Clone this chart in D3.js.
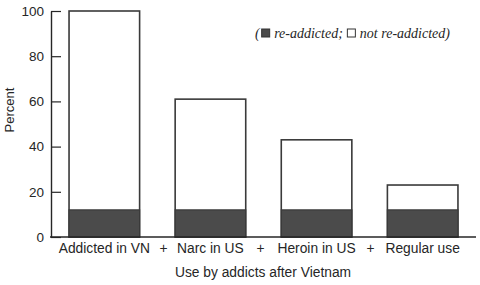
<!DOCTYPE html>
<html>
<head>
<meta charset="utf-8">
<script src="https://cdn.jsdelivr.net/npm/d3@7"></script>
<style>
  body { margin: 0; background: #fff; }
  svg { display: block; }
</style>
</head>
<body>
<div id="chart"></div>
<script>
// data
const categories = ["Addicted in VN", "Narc in US", "Heroin in US", "Regular use"];
const totalUse = [100, 61, 43, 23];     // percent, whole bar
const reAddicted = [12, 12, 12, 12];    // percent, dark part
const yTicks = [0, 20, 40, 60, 80, 100];

const W = 480, H = 285;
const ink = "#262626", dark = "#4b4b4b";
const sans = "Liberation Sans, Arial, Helvetica, sans-serif";

const svg = d3.select("#chart").append("svg")
  .attr("width", W).attr("height", H);

const x = d3.scaleBand().domain(categories)
  .range([51, 476]).paddingInner(0.335).paddingOuter(0.17);
const y = d3.scaleLinear().domain([0, 100]).range([237, 11]);

// bars: outline for total, dark fill for re-addicted share
const bars = svg.append("g");
bars.selectAll(".tot").data(categories).enter().append("rect")
  .attr("class", "tot")
  .attr("x", d => x(d)).attr("width", x.bandwidth())
  .attr("y", (d, i) => y(totalUse[i]))
  .attr("height", (d, i) => y(0) - y(totalUse[i]))
  .attr("fill", "#fff").attr("stroke", "#3a3a3a").attr("stroke-width", 1.6);
bars.selectAll(".re").data(categories).enter().append("rect")
  .attr("class", "re")
  .attr("x", d => x(d)).attr("width", x.bandwidth())
  .attr("y", (d, i) => y(reAddicted[i]))
  .attr("height", (d, i) => y(0) - y(reAddicted[i]))
  .attr("fill", dark).attr("stroke", "#3a3a3a").attr("stroke-width", 1.2);

// y axis, ticks pointing into the plot
const ya = svg.append("g").attr("transform", "translate(51,0)")
  .call(d3.axisLeft(y).tickValues(yTicks).tickSizeInner(-10).tickSizeOuter(0).tickPadding(7));
ya.select(".domain").attr("stroke", ink).attr("stroke-width", 1.4);
ya.selectAll(".tick line").attr("stroke", ink).attr("stroke-width", 1.2);
ya.selectAll(".tick text").attr("font-family", sans).attr("font-size", 13.5).attr("fill", ink);

// baseline
svg.append("line")
  .attr("x1", 50).attr("x2", 476).attr("y1", y(0)).attr("y2", y(0))
  .attr("stroke", ink).attr("stroke-width", 1.4);

// category labels with "+" between them
const labs = svg.append("g").selectAll("text").data(categories).enter().append("text")
  .attr("x", d => x(d) + x.bandwidth() / 2).attr("y", 253)
  .attr("text-anchor", "middle")
  .attr("font-family", sans).attr("font-size", 13.8).attr("fill", ink)
  .text(d => d);
const ext = [];
labs.each(function (d) {
  const w = this.getComputedTextLength();
  const c = x(d) + x.bandwidth() / 2;
  ext.push([c - w / 2, c + w / 2]);
});
for (let i = 0; i < ext.length - 1; i++) {
  svg.append("text")
    .attr("x", (ext[i][1] + ext[i + 1][0]) / 2).attr("y", 253)
    .attr("text-anchor", "middle")
    .attr("font-family", sans).attr("font-size", 13.8).attr("fill", ink)
    .text("+");
}

// axis titles
svg.append("text")
  .attr("x", 263).attr("y", 277).attr("text-anchor", "middle")
  .attr("font-family", sans).attr("font-size", 13.8).attr("fill", ink)
  .text("Use by addicts after Vietnam");
svg.append("text")
  .attr("transform", "translate(14,110) rotate(-90)")
  .attr("text-anchor", "middle")
  .attr("font-family", sans).attr("font-size", 13).attr("fill", ink)
  .text("Percent");

// legend, italic serif
const serif = "Liberation Serif, Times New Roman, serif";
const lg = svg.append("g").attr("font-family", serif).attr("font-style", "italic")
  .attr("font-size", 14).attr("fill", ink);
let lx = 255;
const ly = 38;
function piece(str, gap) {
  const t = lg.append("text").attr("x", lx).attr("y", ly).text(str);
  lx += t.node().getComputedTextLength() + gap;
}
function box(filled) {
  lg.append("rect").attr("x", lx).attr("y", ly - 9).attr("width", 8).attr("height", 8)
    .attr("fill", filled ? dark : "#fff").attr("stroke", "#333").attr("stroke-width", 1);
  lx += 8 + 4.5;
}
piece("(", 2);
box(true);
piece("re-addicted;", 4.5);
box(false);
piece("not re-addicted)", 0);
</script>
</body>
</html>
